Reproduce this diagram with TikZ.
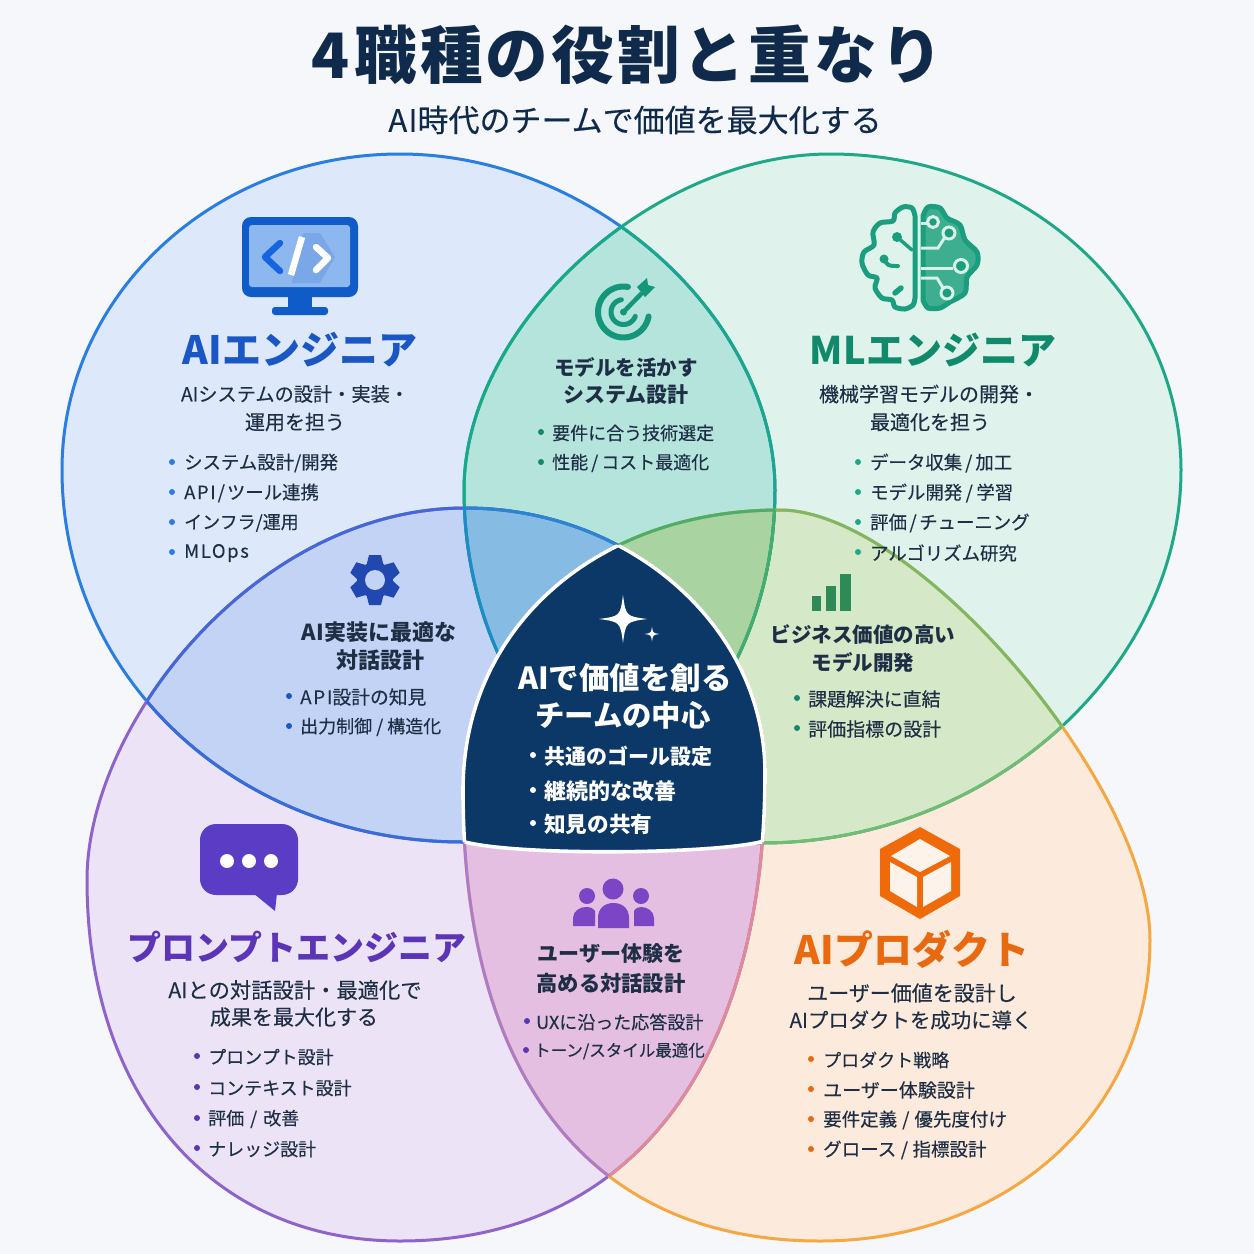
\documentclass[tikz,border=0pt]{standalone}
\usepackage{fontspec}
\setmainfont{Noto Sans CJK JP}
\newfontfamily\medf[FakeBold=0.25]{Noto Sans CJK JP}
\newcounter{tn}
\definecolor{bgc}{HTML}{F5F7FA}
\definecolor{fB}{HTML}{DDE9FA}
\definecolor{fG}{HTML}{DFF3EC}
\definecolor{fU}{HTML}{EDE3F6}
\definecolor{fO}{HTML}{FCEBDC}
\definecolor{fBG}{HTML}{B4E4DC}
\definecolor{fBU}{HTML}{C3D3F5}
\definecolor{fGO}{HTML}{D5E8C8}
\definecolor{fUO}{HTML}{E5BFE2}
\definecolor{fBGU}{HTML}{86BBE3}
\definecolor{fBGO}{HTML}{A9D4A2}
\definecolor{sB}{HTML}{2A7DE1}
\definecolor{sG}{HTML}{1FA888}
\definecolor{sU}{HTML}{8E63CC}
\definecolor{sO}{HTML}{F5A742}
\definecolor{navy}{HTML}{0B3866}
\definecolor{ink}{HTML}{1E2F45}
\definecolor{tB}{HTML}{1A56C4}
\definecolor{tG}{HTML}{118A6B}
\definecolor{tU}{HTML}{5B34B8}
\definecolor{tO}{HTML}{E8690F}
\definecolor{titlec}{HTML}{0F2A4A}
\def\pB{(62,470) .. controls (62,295.5) and (213.3,154) .. (400,154) .. controls (597,154) and (775,322) .. (775,490) .. controls (775,684.4) and (635.3,842) .. (463,842) .. controls (238.4,842) and (62,678.3) .. (62,470) -- cycle}
\def\pG{(464,490) .. controls (464,325) and (652,154) .. (830,154) .. controls (1023.9,154) and (1181,295.5) .. (1181,470) .. controls (1181,670) and (988,843) .. (762,843) .. controls (598.1,843) and (464,684.2) .. (464,490) -- cycle}
\def\pU{(87,880) .. controls (87,723.8) and (257.1,508) .. (465,508) .. controls (630,508) and (765,627.2) .. (765,773) .. controls (765,1066.4) and (628.9,1241) .. (400,1241) .. controls (212.2,1241) and (87,1096.6) .. (87,880) -- cycle}
\def\pO{(463,790) .. controls (463,627.6) and (596.1,510) .. (780,510) .. controls (915,510) and (1150,785) .. (1150,940) .. controls (1150,1111.6) and (1008.1,1241) .. (820,1241) .. controls (591.5,1241) and (463,1078.6) .. (463,790) -- cycle}
\def\pC{(430,480) -- (800,480) -- (800,842) -- (760,842) .. controls (710,854) and (520,856) .. (465,842) -- (430,842) -- cycle}
\newcommand{\lat}[1]{{\addfontfeature{LetterSpace=9}#1}}
\newcommand{\slh}[1]{\kern#1pt/\kern#1pt}
\newcommand{\tln}[5]{\stepcounter{tn}\node[text=#3,font=\medf\fontsize{#4}{#4}\selectfont,inner sep=0pt,anchor=center] (t\arabic{tn}) at (#1,#2) {#5};}
\newcommand{\tlnb}[5]{\stepcounter{tn}\node[text=#3,font=\fontsize{#4}{#4}\selectfont\bfseries,inner sep=0pt,anchor=center] (t\arabic{tn}) at (#1,#2) {#5};}
\newcommand{\blt}[7]{\stepcounter{tn}\fill[#4] (#1,#3) circle[radius=3pt];\node[text=#5,font=\medf\fontsize{#6}{#6}\selectfont,inner sep=0pt,anchor=west,yshift=-1pt] (t\arabic{tn}) at (#2,#3) {#7};}
\newcommand{\parc}[6]{\draw[#6,line cap=round] plot[domain=#4:#5,samples=40,variable=\vv] ({#1+#3*cos(\vv)},{#2-#3*sin(\vv)});}
\newcommand{\spark}[3]{\fill[white] (#1,#2-#3) .. controls (#1+0.12*#3,#2-0.12*#3) .. (#1+#3,#2) .. controls (#1+0.12*#3,#2+0.12*#3) .. (#1,#2+#3) .. controls (#1-0.12*#3,#2+0.12*#3) .. (#1-#3,#2) .. controls (#1-0.12*#3,#2-0.12*#3) .. cycle;}
\begin{document}
\begin{tikzpicture}[x=1pt,y=-1pt]
\useasboundingbox (0,0) rectangle (1254,1254);
\fill[bgc] (0,0) rectangle (1254,1254);
% region fills
\fill[fB] \pB; \fill[fG] \pG; \fill[fU] \pU; \fill[fO] \pO;
\begin{scope}\clip \pB; \fill[fBG] \pG; \end{scope}
\begin{scope}\clip \pB; \fill[fBU] \pU; \end{scope}
\begin{scope}\clip \pG; \fill[fGO] \pO; \end{scope}
\begin{scope}\clip \pU; \fill[fUO] \pO; \end{scope}
\begin{scope}\clip \pB; \clip \pG; \fill[fBGU] \pU; \end{scope}
\begin{scope}\clip \pB; \clip \pG; \fill[fBGO] \pO; \end{scope}
% outlines
\begin{scope}[line width=3pt]
\draw[sB] \pB; \draw[sG] \pG; \draw[sU] \pU; \draw[sO] \pO;
\begin{scope}\clip \pG; \draw[color={rgb,255:red,24;green,168;blue,138}] \pB; \end{scope}
\begin{scope}\clip \pB; \draw[color={rgb,255:red,24;green,168;blue,138}] \pG; \end{scope}
\begin{scope}\clip \pB; \draw[color={rgb,255:red,68;green,104;blue,218}] \pU; \end{scope}
\begin{scope}\clip \pU; \draw[color={rgb,255:red,58;green,107;blue,216}] \pB; \end{scope}
\begin{scope}\clip \pG; \draw[color={rgb,255:red,125;green,185;blue,100}] \pO; \end{scope}
\begin{scope}\clip \pO; \draw[color={rgb,255:red,114;green,188;blue,116}] \pG; \end{scope}
\begin{scope}\clip \pO; \draw[color={rgb,255:red,224;green,138;blue,154}] \pU; \end{scope}
\begin{scope}\clip \pU; \draw[color={rgb,255:red,173;green,123;blue,203}] \pO; \end{scope}
\begin{scope}\clip \pB; \clip \pG; \draw[color={rgb,255:red,42;green,134;blue,208}] \pU; \draw[color={rgb,255:red,76;green,174;blue,106}] \pO; \end{scope}
\begin{scope}\clip \pO; \clip \pG; \draw[color={rgb,255:red,67;green,174;blue,104}] \pB; \end{scope}
\begin{scope}\clip \pU; \clip \pB; \draw[color={rgb,255:red,31;green,138;blue,200}] \pG; \end{scope}
\end{scope}
% centre
\begin{scope}
\clip \pU; \clip \pO; \clip \pC;
\fill[navy] (430,480) rectangle (800,880);
\end{scope}
\begin{scope}\clip \pO; \clip \pC; \draw[white,line width=3.6pt] \pU; \end{scope}
\begin{scope}\clip \pU; \clip \pC; \draw[white,line width=3.6pt] \pO; \end{scope}
\begin{scope}\clip \pU; \clip \pO; \draw[white,line width=3.6pt] \pC; \end{scope}
% title
\tlnb{627}{55}{titlec}{62.6}{\addfontfeature{LetterSpace=5}4\kern5pt 職種の役割と重なり}
\tln{635}{120}{titlec}{31}{{\addfontfeature{LetterSpace=4}AI}時代のチームで価値を最大化する}
% AI engineer
\tlnb{300}{350}{tB}{39}{AIエンジニア}
\tln{295}{394}{ink}{19.2}{AIシステムの設計・実装・}
\tln{295}{422}{ink}{20}{運用を担う}
\blt{172}{184}{462}{sB}{ink}{18.4}{システム設計/開発}
\blt{172}{184}{492}{sB}{ink}{18.4}{\lat{API}\slh{2}ツール連携}
\blt{172}{184}{522}{sB}{ink}{18}{インフラ/運用}
\blt{172}{184}{552}{sB}{ink}{18.4}{\lat{MLOps}}
% ML engineer
\tlnb{933}{350}{tG}{38}{MLエンジニア}
\tln{929}{394}{ink}{20}{機械学習モデルの開発・}
\tln{930}{422}{ink}{20}{最適化を担う}
\blt{858}{870}{462}{sG}{ink}{18.4}{データ収集\slh{3}加工}
\blt{858}{870}{492}{sG}{ink}{18.4}{モデル開発\slh{3.5}学習}
\blt{858}{870}{522}{sG}{ink}{18.4}{評価\slh{2.5}チューニング}
\blt{858}{870}{552}{sG}{ink}{18.4}{アルゴリズム研究}
% top lens
\tlnb{626}{367}{ink}{20.5}{モデルを活かす}
\tlnb{626}{395}{ink}{21}{システム設計}
\blt{541}{552}{432}{tG}{ink}{18}{要件に合う技術選定}
\blt{541}{552}{462}{tG}{ink}{18}{性能\slh{3}コスト最適化}
% left lens
\tlnb{379}{632}{ink}{22}{AI実装に最適な}
\tlnb{380}{660}{ink}{22}{対話設計}
\blt{289}{300}{696}{tB}{ink}{18.8}{\lat{API}設計の知見}
\blt{289}{300}{726}{tB}{ink}{18}{出力制御\slh{4}構造化}
% right lens
\tlnb{863}{635}{ink}{20.5}{ビジネス価値の高い}
\tlnb{863}{663}{ink}{20.5}{モデル開発}
\blt{797}{808}{698}{tG}{ink}{18.9}{課題解決に直結}
\blt{797}{808}{728}{tG}{ink}{19}{評価指標の設計}
% centre text
\spark{623}{619}{24}
\spark{652}{634}{7.5}
\tlnb{625}{678}{white}{30.5}{AIで価値を創る}
\tlnb{623}{715}{white}{29.4}{チームの中心}
\blt{533}{544}{755}{white}{white}{21}{\normalfont\bfseries 共通のゴール設定}
\blt{533}{544}{790}{white}{white}{22}{\normalfont\bfseries 継続的な改善}
\blt{533}{544}{823}{white}{white}{21.6}{\normalfont\bfseries 知見の共有}
% prompt engineer
\tlnb{297}{947}{tU}{34}{プロンプトエンジニア}
\tln{295}{990}{ink}{21.3}{AIとの対話設計・最適化で}
\tln{294}{1017}{ink}{21}{成果を最大化する}
\blt{197}{208}{1056}{tU}{ink}{18}{プロンプト設計}
\blt{197}{208}{1087}{tU}{ink}{18}{コンテキスト設計}
\blt{197}{208}{1118}{tU}{ink}{18}{評価\slh{6}改善}
\blt{197}{208}{1148}{tU}{ink}{18}{ナレッジ設計}
% bottom lens
\tlnb{611}{954}{ink}{21}{ユーザー体験を}
\tlnb{611}{983}{ink}{21.3}{高める対話設計}
\blt{527}{536}{1021}{tU}{ink}{18}{UXに沿った応答設計}
\blt{526}{534}{1050}{tU}{ink}{16.5}{トーン/スタイル最適化}
% AI product
\tlnb{912}{949}{tO}{39}{AIプロダクト}
\tln{912}{993}{ink}{21}{ユーザー価値を設計し}
\tln{911}{1020}{ink}{20.4}{AIプロダクトを成功に導く}
\blt{811}{823}{1059}{tO}{ink}{18}{プロダクト戦略}
\blt{811}{823}{1089}{tO}{ink}{19}{ユーザー体験設計}
\blt{811}{823}{1119}{tO}{ink}{18.5}{要件定義\slh{5}優先度付け}
\blt{811}{823}{1149}{tO}{ink}{18.5}{グロース\slh{4.5}指標設計}
% monitor icon
\fill[color={rgb,255:red,15;green,91;blue,200},rounded corners=9pt] (242,217) rectangle (358,297);
\fill[color={rgb,255:red,141;green,183;blue,239},rounded corners=3pt] (249,225) rectangle (350,287);
\fill[color={rgb,255:red,122;green,167;blue,232}] (303,233)--(320,233)--(335,257)--(320,283)--(292,283)--cycle;
\fill[color={rgb,255:red,15;green,91;blue,200}] (288,297) rectangle (312,308);
\fill[color={rgb,255:red,15;green,91;blue,200},rounded corners=3pt] (272,307) rectangle (328,315);
\draw[color={rgb,255:red,21;green,101;blue,224},line width=6.5pt,line cap=round,line join=round] (280,243)--(265,257)--(280,271);
\draw[white,line width=6.5pt] (302,237)--(291,275);
\draw[white,line width=6.5pt,line cap=round,line join=round] (316,247)--(328,258)--(316,270);
% brain icon
\begin{scope}[line width=5pt,line join=round,line cap=round,color={rgb,255:red,26;green,158;blue,126}]
\draw plot[smooth] coordinates {(915,216)(912,208)(903,207)(895,213)(893,221)(880,223)(873,232)(874,245)(864,252)(862,263)(868,275)(877,278)(875,288)(882,298)(892,300)(895,307)(905,309)(913,305)(915,298)} -- (915,216);
\fill (897,237) circle[radius=5pt]; \draw[line width=3.5pt] (897,237)--(912,250);
\fill (884,259) circle[radius=4.5pt]; \draw[line width=4pt] (884,259) .. controls (888,266) .. (898,266);
\draw[line width=5.5pt] (895,293)--(901,288);
\filldraw[fill={rgb,255:red,61;green,174;blue,144}] plot[smooth] coordinates {(923,216)(928,207)(940,208)(947,218)(960,225)(965,240)(977,252)(977,265)(967,277)(965,293)(950,302)(940,308)(928,308)(923,300)} -- cycle;
\end{scope}
\begin{scope}[line width=3pt,color={rgb,255:red,216;green,240;blue,232}]
\draw (921,223)--(928,223);
\draw (921,248)--(938,248)--(945,237);
\draw (921,268)--(953,268);
\draw (921,278)--(937,278)--(943,288);
\filldraw[fill={rgb,255:red,26;green,158;blue,126}] (933,222) circle[radius=5.5pt];
\filldraw[fill={rgb,255:red,26;green,158;blue,126}] (949,233) circle[radius=6pt];
\filldraw[fill={rgb,255:red,26;green,158;blue,126}] (961,266) circle[radius=6.5pt];
\filldraw[fill={rgb,255:red,26;green,158;blue,126}] (947,293) circle[radius=6pt];
\end{scope}
% target icon
\parc{623.5}{312}{25.5}{80}{350}{color={rgb,255:red,20;green,150;blue,122},line width=6pt}
\parc{623.5}{312}{12.5}{100}{340}{color={rgb,255:red,20;green,150;blue,122},line width=5pt}
\fill[color={rgb,255:red,20;green,150;blue,122}] (623.5,312) circle[radius=3.5pt];
\draw[color={rgb,255:red,20;green,150;blue,122},line width=4.5pt] (623.5,312)--(642,293);
\fill[color={rgb,255:red,20;green,150;blue,122}] (637,287)--(647,278)--(648,285)--(655,287)--(645,297)--cycle;
% gear icon
\foreach \a in {0,60,120,180,240,300}{\fill[color={rgb,255:red,32;green,72;blue,176},shift={(375,580)},rotate=\a] (-6,-25)--(6,-25)--(8.5,-15)--(-8.5,-15)--cycle;}
\fill[color={rgb,255:red,32;green,72;blue,176}] (375,580) circle[radius=18pt];
\fill[fBU] (375,580) circle[radius=10pt];
% bars icon
\fill[color={rgb,255:red,46;green,139;blue,87}] (812,596) rectangle (821,611);
\fill[color={rgb,255:red,46;green,139;blue,87}] (826,586) rectangle (836,611);
\fill[color={rgb,255:red,46;green,139;blue,87}] (840,574) rectangle (851,611);
% speech bubble icon
\fill[color={rgb,255:red,91;green,60;blue,196},rounded corners=16pt] (200,824) rectangle (298,895);
\fill[color={rgb,255:red,91;green,60;blue,196},line join=round] (253,893)--(275,911)--(277,893)--cycle;
\fill[white] (227,861) circle[radius=7pt];
\fill[white] (249,861) circle[radius=7pt];
\fill[white] (271,861) circle[radius=7pt];
% cube icon
\fill[color={rgb,255:red,238;green,106;blue,11}] (920,827)--(960,849)--(960,896)--(920,919)--(880,896)--(880,849)--cycle;
\fill[fO!60!white] (920,839)--(950,856)--(920,872)--(891,856)--cycle;
\fill[fO!60!white] (890,862)--(917,877)--(917,907)--(890,891)--cycle;
\fill[fO!60!white] (923,877)--(951,862)--(951,891)--(923,907)--cycle;
% people icon
\begin{scope}[color={rgb,255:red,123;green,69;blue,198}]
\fill (613,889) circle[radius=10.5pt];
\fill (587,896) circle[radius=8pt];
\fill (641,896) circle[radius=8pt];
\fill (598,928)--(598,918) .. controls (598,908) and (605,903) .. (613.5,903) .. controls (622,903) and (629,908) .. (629,918)--(629,928)--cycle;
\fill (573,926)--(573,918) .. controls (573,911) and (580,907) .. (586,907) .. controls (590,907) and (593,908) .. (595,911)--(595,926)--cycle;
\fill (654,926)--(654,918) .. controls (654,911) and (647,907) .. (641,907) .. controls (638,907) and (636,908) .. (634,911)--(634,926)--cycle;
\end{scope}
\end{tikzpicture}
\end{document}
